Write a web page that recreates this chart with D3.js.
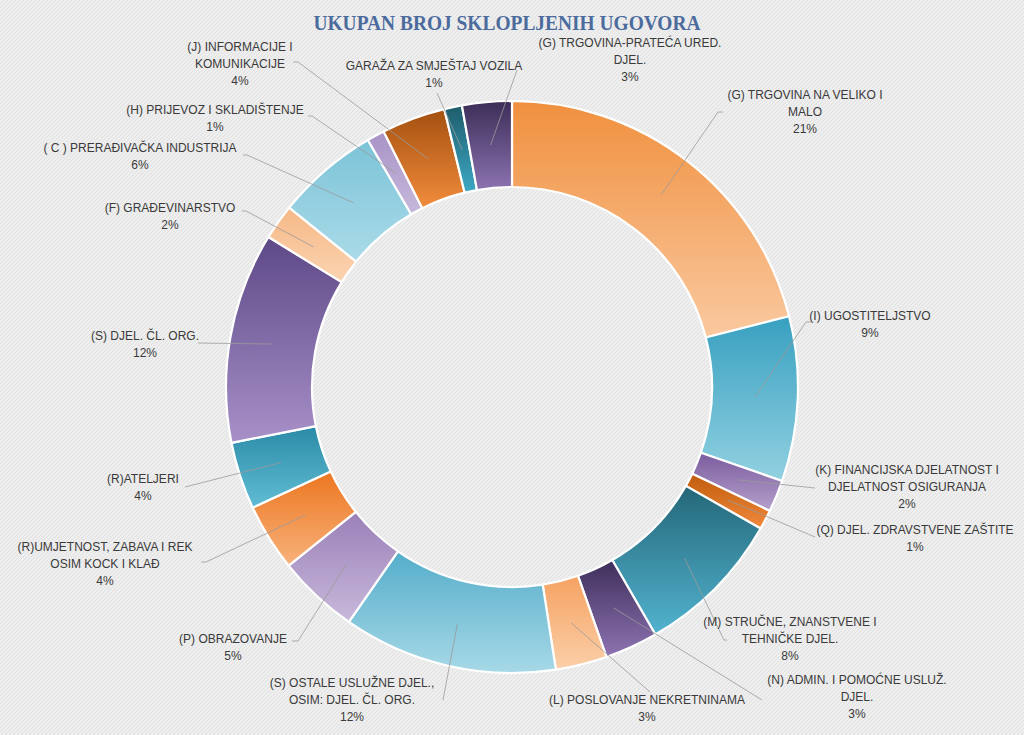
<!DOCTYPE html>
<html>
<head>
<meta charset="utf-8">
<script src="https://cdn.jsdelivr.net/npm/d3@7/dist/d3.min.js"></script>
<style>
  html, body { margin: 0; padding: 0; background: #efefef; }
  svg { display: block; }
</style>
</head>
<body>
<svg id="chart" width="1024" height="735"></svg>
<script>
// ---- data ----
const title = "UKUPAN BROJ SKLOPLJENIH UGOVORA";
const categories = [
  "(G) TRGOVINA NA VELIKO I\nMALO",
  "(I) UGOSTITELJSTVO",
  "(K) FINANCIJSKA DJELATNOST I\nDJELATNOST OSIGURANJA",
  "(Q) DJEL. ZDRAVSTVENE ZAŠTITE",
  "(M) STRUČNE, ZNANSTVENE I\nTEHNIČKE DJEL.",
  "(N) ADMIN. I POMOĆNE USLUŽ.\nDJEL.",
  "(L) POSLOVANJE NEKRETNINAMA",
  "(S) OSTALE USLUŽNE DJEL.,\nOSIM: DJEL. ČL. ORG.",
  "(P) OBRAZOVANJE",
  "(R)UMJETNOST, ZABAVA I REK\nOSIM KOCK I KLAĐ",
  "(R)ATELJERI",
  "(S) DJEL. ČL. ORG.",
  "(F) GRAĐEVINARSTVO",
  "( C ) PRERAĐIVAČKA INDUSTRIJA",
  "(H) PRIJEVOZ I SKLADIŠTENJE",
  "(J) INFORMACIJE I\nKOMUNIKACIJE",
  "GARAŽA ZA SMJEŠTAJ VOZILA",
  "(G) TRGOVINA-PRATEĆA URED.\nDJEL."
];
const values = [21.0, 9.3, 1.8, 1.1, 8.4, 3.0, 2.9, 12.1, 4.6, 3.8, 3.8, 11.9, 2.0, 5.8, 1.0, 3.6, 1.0, 2.8];

// ---- styles / layout ----
const colorsTop = ["#F0903E","#38A0C0","#7A5C9E","#BF5C0C","#246779","#3E2E5A","#F6A262","#55ADCA","#9A80B8","#EC7620","#2B8AA6","#5D4987","#F6B886","#7CC3D7","#A893C6","#A45010","#1E5C6B","#3C2D57"];
const colorsBot = ["#FAC9A0","#92D1E1","#B5A0CC","#F2893C","#52B3CE","#8E74B2","#FBCFA8","#A7D9E7","#C9B9DB","#F8B27C","#60BDD4","#A890C8","#FBD4B2","#AADBE9","#C6B8DB","#F28C3C","#3DA8C4","#8C73B1"];
const labelLayout = [
  {x: 805, y: 95,  end: [718, 112], stub: 5},
  {x: 870, y: 316, end: [806, 322], stub: 5},
  {x: 907, y: 470, end: [815, 488], stub: 0},
  {x: 915, y: 530, end: [815, 537], stub: 0},
  {x: 790, y: 622, end: [724, 640], stub: 3},
  {x: 857, y: 680, end: [762, 700], stub: 0},
  {x: 647, y: 700, end: [650, 692], stub: 0},
  {x: 352, y: 683, end: [443, 700], stub: 0},
  {x: 233, y: 639, end: [298, 641], stub: -6},
  {x: 105, y: 547, end: [206, 562], stub: -5},
  {x: 143, y: 479, end: [185, 487], stub: 0},
  {x: 145, y: 336, end: [198, 343], stub: 0},
  {x: 170, y: 208, end: [246, 211], stub: -4},
  {x: 140, y: 148, end: [247, 155], stub: -4},
  {x: 215, y: 110, end: [312, 116], stub: -4},
  {x: 240, y: 47,  end: [298, 62],  stub: -5},
  {x: 434, y: 66,  end: [437, 93],  stub: 0},
  {x: 630, y: 43,  end: [517, 70],  stub: 0}
];

const W = 1024, H = 735;
const cx = 512, cy = 387, R = 286, r = 200;
const svg = d3.select("#chart");
const defs = svg.append("defs");

// background texture
const pat = defs.append("pattern").attr("id", "bgpat").attr("patternUnits", "userSpaceOnUse")
  .attr("width", 4).attr("height", 4);
pat.append("rect").attr("width", 4).attr("height", 4).attr("fill", "#eeeeee");
pat.append("path").attr("d", "M0,4 L4,0").attr("stroke", "#e1e1e1").attr("stroke-width", 1);
svg.append("rect").attr("width", W).attr("height", H).attr("fill", "url(#bgpat)");

// gradients
values.forEach((v, i) => {
  const g = defs.append("linearGradient").attr("id", "g" + i)
    .attr("x1", 0).attr("y1", 0).attr("x2", 0).attr("y2", 1);
  g.append("stop").attr("offset", "0%").attr("stop-color", colorsTop[i]);
  g.append("stop").attr("offset", "100%").attr("stop-color", colorsBot[i]);
});

const total = d3.sum(values);
const pie = d3.pie().sort(null).value(d => d)(values);
const arc = d3.arc().innerRadius(r).outerRadius(R);
const mid = d3.arc().innerRadius(243).outerRadius(243);

const gChart = svg.append("g").attr("transform", `translate(${cx},${cy})`);
gChart.selectAll("path.slice").data(pie).join("path")
  .attr("class", "slice")
  .attr("d", arc)
  .attr("fill", (d, i) => `url(#g${i})`)
  .attr("stroke", "#ffffff")
  .attr("stroke-width", 2.2)
  .attr("stroke-linejoin", "round");

// leader lines
gChart.selectAll("polyline.leader").data(pie).join("polyline")
  .attr("class", "leader")
  .attr("points", (d, i) => {
    const p = mid.centroid(d);
    const L = labelLayout[i];
    const e = [L.end[0] - cx, L.end[1] - cy];
    const pts = [p, e];
    if (L.stub) pts.push([e[0] + L.stub, e[1]]);
    return pts.map(q => q.join(",")).join(" ");
  })
  .attr("fill", "none")
  .attr("stroke", "#9a9a9a")
  .attr("stroke-width", 0.8);

// labels
const fmt = v => Math.round(v / total * 100) + "%";
const lineH = 17;
const labels = svg.append("g").attr("font-family", "'Liberation Sans', Arial, sans-serif")
  .attr("font-size", 12).attr("fill", "#3a3a3a").attr("text-anchor", "middle");
pie.forEach((d, i) => {
  const L = labelLayout[i];
  const lines = categories[i].split("\n").concat([fmt(d.value)]);
  const t = labels.append("text").attr("x", L.x).attr("y", L.y + 4);
  lines.forEach((s, k) => {
    t.append("tspan").attr("x", L.x).attr("dy", k === 0 ? 0 : lineH).text(s);
  });
});

// title
svg.append("text")
  .attr("x", 507).attr("y", 30)
  .attr("text-anchor", "middle")
  .attr("font-family", "'Liberation Serif', 'DejaVu Serif', serif")
  .attr("font-weight", "bold")
  .attr("font-size", 22)
  .attr("fill", "#4C6B9D")
  .attr("textLength", 387)
  .attr("lengthAdjust", "spacingAndGlyphs")
  .text(title);
</script>
</body>
</html>
